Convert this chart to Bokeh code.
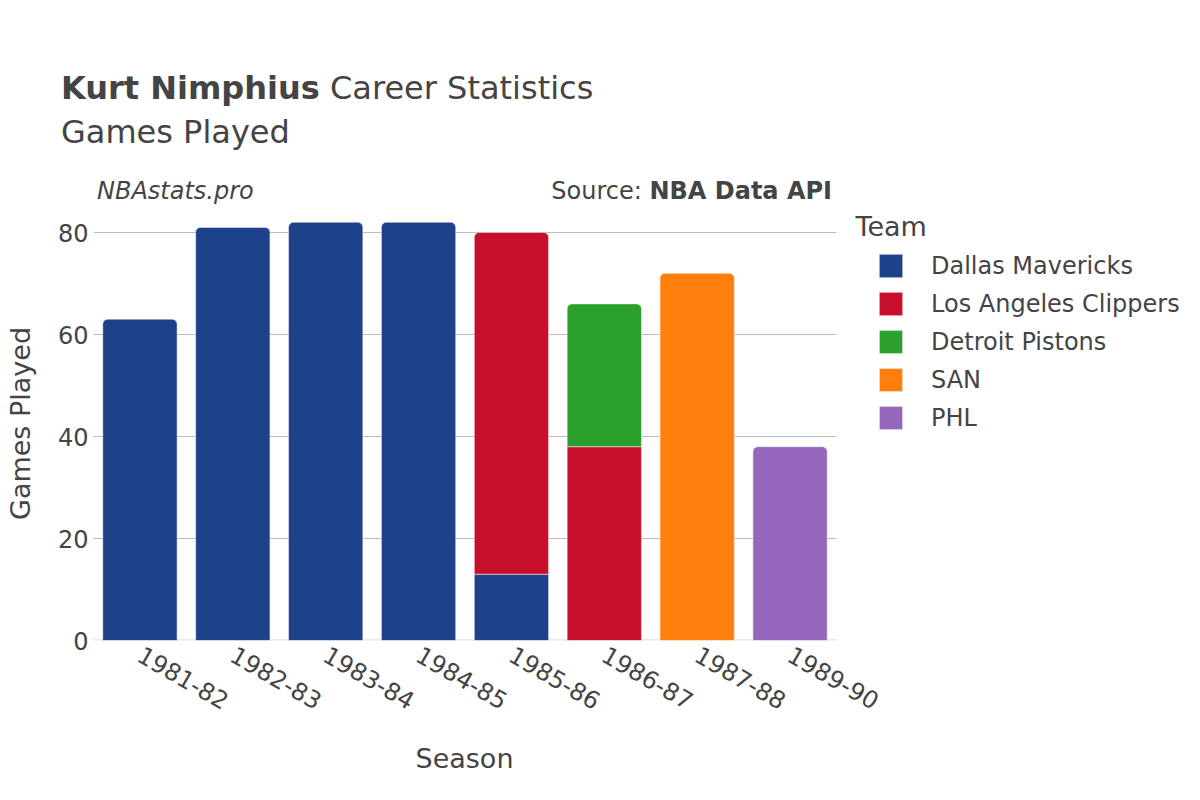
from bokeh.plotting import figure
from bokeh.models import (ColumnDataSource, Range1d, Label, Legend, LegendItem, FixedTicker, Div)
from bokeh.layouts import column
from bokeh.embed import file_html
from bokeh.resources import INLINE
import math

seasons = ["1981-82", "1982-83", "1983-84", "1984-85", "1985-86", "1986-87", "1987-88", "1989-90"]
teams = ["Dallas Mavericks", "Los Angeles Clippers", "Detroit Pistons", "SAN", "PHL"]
colors = ["#1d428a", "#c8102e", "#2ca02c", "#ff7f0e", "#9467bd"]
dal = [63, 81, 82, 82, 13, 0, 0, 0]
lac = [0, 0, 0, 0, 67, 38, 0, 0]
det = [0, 0, 0, 0, 0, 28, 0, 0]
san = [0, 0, 0, 0, 0, 0, 72, 0]
phl = [0, 0, 0, 0, 0, 0, 0, 38]
series = [dal, lac, det, san, phl]
y_ticks = [0, 20, 40, 60, 80]

FONT = "DejaVu Sans"
TXT = "#444444"
W = 1184
HDR_H = 206
MAIN_H = 529
FOOT_H = 49
FRAME_L = 93
FRAME_W_BARS = 743        # pixel width used by the bar categories
PX_PER_UNIT = 5.1

N = len(seasons)
xc = [i + 0.5 for i in range(N)]
x_end = N * (W - FRAME_L) / FRAME_W_BARS
frame_h = MAIN_H - 95
y_end = frame_h / PX_PER_UNIT

base = f"position:absolute;white-space:nowrap;line-height:1;font-family:'{FONT}';color:{TXT};"

# ---------- header ----------
hdr_html = (
    f"<div style='position:relative;width:{W}px;height:{HDR_H}px;'>"
    f"<span style=\"{base}left:61px;top:72px;font-size:32px;\"><b>Kurt Nimphius</b> Career Statistics</span>"
    f"<span style=\"{base}left:61px;top:116px;font-size:32px;\">Games Played</span>"
    f"<span style=\"{base}left:97px;top:179px;font-size:24px;font-style:italic;\">NBAstats.pro</span>"
    f"<span style=\"{base}right:{W - 832}px;top:179px;font-size:24px;\">Source: <b>NBA Data API</b></span>"
    "</div>"
)
hdr = Div(text=hdr_html, width=W, height=HDR_H, margin=0)

# ---------- main chart ----------
p = figure(width=W, height=MAIN_H, x_range=Range1d(0, x_end), y_range=Range1d(0, y_end),
           output_backend="svg", toolbar_location=None, margin=0,
           min_border_left=FRAME_L, min_border_right=0, min_border_top=0,
           min_border_bottom=MAIN_H - frame_h)
p.outline_line_color = None
p.title.visible = False
p.xgrid.grid_line_color = None
p.ygrid.grid_line_color = None

# grid lines limited to the bar area
p.segment(x0=[0] * (len(y_ticks) - 1), x1=[N] * (len(y_ticks) - 1),
          y0=y_ticks[1:], y1=y_ticks[1:], line_color="#bbbbbb", line_width=1)
p.segment(x0=[0], x1=[N], y0=[0], y1=[0], line_color="#e8e8e8", line_width=3)

bottoms = [0] * N
renderers = {}
for ti, (team, vals, col) in enumerate(zip(teams, series, colors)):
    tops = [b + v for b, v in zip(bottoms, vals)]
    is_top = [sum(series[k][si] for k in range(ti + 1, len(teams))) == 0 for si in range(N)]
    rs = []
    for flag in (True, False):
        idx = [i for i in range(N) if vals[i] > 0 and is_top[i] == flag]
        if not idx:
            continue
        src = ColumnDataSource(dict(x=[xc[i] for i in idx], top=[tops[i] for i in idx],
                                    bottom=[bottoms[i] for i in idx]))
        r = p.vbar(x="x", top="top", bottom="bottom", width=0.8, source=src,
                   fill_color=col, line_color="white", line_width=0.8, line_alpha=0.6,
                   border_radius=(5, 5, 0, 0) if flag else 0)
        rs.append(r)
    renderers[team] = rs
    bottoms = tops

p.xaxis.ticker = FixedTicker(ticks=xc)
p.xaxis.major_label_overrides = {x: s for x, s in zip(xc, seasons)}
p.yaxis.ticker = FixedTicker(ticks=y_ticks)
for ax in (p.xaxis, p.yaxis):
    ax.axis_line_color = None
    ax.major_tick_line_color = None
    ax.minor_tick_line_color = None
    ax.major_tick_out = 0
    ax.major_tick_in = 0
    ax.major_label_text_font_size = "24px"
    ax.major_label_text_font = FONT
    ax.major_label_text_color = TXT
p.yaxis.major_label_standoff = 5
p.xaxis.major_label_standoff = 12
p.xaxis.major_label_orientation = -math.pi / 6
p.yaxis.axis_label = "Games Played"
p.yaxis.axis_label_text_font = FONT
p.yaxis.axis_label_text_font_size = "27px"
p.yaxis.axis_label_text_font_style = "normal"
p.yaxis.axis_label_text_color = TXT
p.yaxis.axis_label_standoff = 19

p.add_layout(Label(x=855 - FRAME_L, y=frame_h - (236 - HDR_H) - 5, x_units="screen", y_units="screen",
                   text="Team", text_font=FONT, text_font_size="27px", text_color=TXT))

legend = Legend(items=[LegendItem(label=t, renderers=renderers[t]) for t in teams],
                location=(876 - FRAME_L, 208), orientation="vertical",
                label_text_font=FONT, label_text_font_size="24px", label_text_color=TXT,
                glyph_width=29, glyph_height=29, label_standoff=26, spacing=9,
                label_height=23, padding=0, margin=0,
                border_line_alpha=0, background_fill_alpha=0)
p.add_layout(legend)

# ---------- footer ----------
ftr_html = (
    f"<div style='position:relative;width:{W}px;height:{FOOT_H}px;'>"
    f"<span style=\"{base}left:0px;width:929px;text-align:center;top:10px;font-size:27px;\">Season</span>"
    "</div>"
)
ftr = Div(text=ftr_html, width=W, height=FOOT_H, margin=0)

layout = column(hdr, p, ftr, spacing=0)
open("out.html", "w").write(file_html(layout, INLINE))
